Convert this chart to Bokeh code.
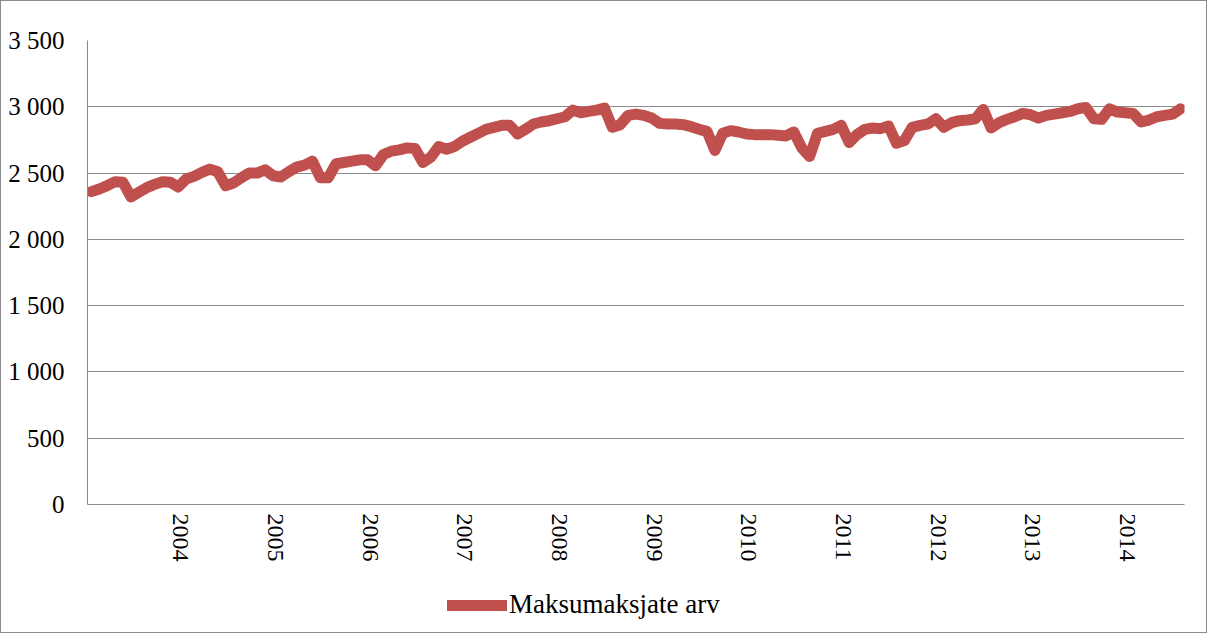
import numpy as np
import pandas as pd
from bokeh.plotting import figure
from bokeh.layouts import column
from bokeh.models import FixedTicker, Legend, LegendItem, Range1d, ColumnDataSource
from bokeh.embed import file_html
from bokeh.resources import INLINE

# Monthly series, starting February 2003
start_month = "2003-02"
values = [
    2360, 2380, 2405, 2435, 2430, 2320, 2355, 2390, 2415, 2435,
    2430, 2395, 2455, 2475, 2505, 2530, 2510, 2405, 2425, 2465,
    2500, 2500, 2525, 2480, 2470, 2510, 2545, 2560, 2590, 2465,
    2465, 2570, 2580, 2590, 2600, 2600, 2555, 2640, 2665, 2675,
    2690, 2685, 2580, 2620, 2700, 2680, 2700, 2740, 2770, 2800,
    2830, 2845, 2860, 2860, 2795, 2830, 2870, 2885, 2895, 2910,
    2925, 2975, 2955, 2965, 2975, 2990, 2845, 2865, 2935, 2945,
    2935, 2915, 2875, 2870, 2870, 2865, 2850, 2830, 2815, 2670,
    2800, 2820, 2810, 2795, 2790, 2790, 2790, 2785, 2780, 2810,
    2690, 2625, 2800, 2815, 2830, 2860, 2730, 2790, 2830, 2840,
    2835, 2855, 2725, 2745, 2845, 2860, 2870, 2910, 2845, 2880,
    2895, 2900, 2910, 2980, 2840, 2880, 2905, 2925, 2950, 2940,
    2915, 2935, 2945, 2955, 2965, 2985, 2995, 2910, 2905, 2985,
    2960, 2955, 2950, 2885, 2900, 2925, 2935, 2945, 2985,
]
series_name = "Maksumaksjate arv"
year_labels = ["2004", "2005", "2006", "2007", "2008", "2009",
               "2010", "2011", "2012", "2013", "2014"]
y_ticks = [0, 500, 1000, 1500, 2000, 2500, 3000, 3500]
y_tick_labels = ["0", "500", "1 000", "1 500", "2 000", "2 500", "3 000", "3 500"]

months = pd.date_range(start_month, periods=len(values), freq="MS")
idx = np.arange(len(values))
label_shift = 0.3
jan_idx = [float(i) + label_shift for i in idx[months.month == 1]]

src = ColumnDataSource(dict(x=idx, y=values))

FONT = "Liberation Serif"
GRID = "#8a8a8a"
RED = "#C0504D"
W = 1205

p = figure(width=W, height=575,
           x_range=Range1d(-0.5, len(values) - 0.5),
           y_range=Range1d(y_ticks[0], y_ticks[-1]),
           output_backend="svg", toolbar_location=None,
           min_border_left=86, min_border_right=22,
           min_border_top=39, min_border_bottom=72)
p.background_fill_color = "white"
p.border_fill_color = "white"
p.outline_line_color = None

r = p.line("x", "y", source=src, line_width=11, line_color=RED,
           line_join="round", line_cap="round")

p.xgrid.visible = False
p.ygrid.grid_line_color = GRID
p.ygrid.grid_line_width = 1
p.yaxis.ticker = FixedTicker(ticks=y_ticks)
p.yaxis.major_label_overrides = {t: l for t, l in zip(y_ticks, y_tick_labels)}
p.xaxis.ticker = FixedTicker(ticks=jan_idx)
p.xaxis.major_label_overrides = {t: l for t, l in zip(jan_idx, year_labels)}
p.xaxis.major_label_orientation = -np.pi / 2

for ax in (p.xaxis, p.yaxis):
    ax.axis_line_color = GRID
    ax.major_tick_line_color = None
    ax.minor_tick_line_color = None
    ax.major_label_text_font = FONT
    ax.major_label_text_font_size = "24px"
    ax.major_label_text_color = "black"
p.yaxis.major_label_text_font_size = "25px"
p.yaxis.major_label_standoff = 17
p.xaxis.major_label_standoff = 3

# Legend strip below the chart (its frame is aligned with the chart's frame)
lg = figure(width=W, height=56, x_range=Range1d(0, 1), y_range=Range1d(0, 1),
            output_backend="svg", toolbar_location=None,
            min_border_left=0, min_border_right=0,
            min_border_top=0, min_border_bottom=0)
lg.axis.visible = False
lg.grid.visible = False
lg.outline_line_color = None
lg.background_fill_color = "white"
lg.border_fill_color = "white"
# same series, out of this strip's ranges, only used for the legend sample
lr = lg.line("x", "y", source=src, line_width=11, line_color=RED, line_cap="round")
legend = Legend(items=[LegendItem(label=series_name, renderers=[lr])],
                location=(360, 12), orientation="horizontal",
                label_text_font=FONT, label_text_font_size="27px",
                label_text_color="black", glyph_width=60, glyph_height=20,
                label_standoff=2, border_line_color=None,
                background_fill_alpha=0, margin=0, padding=0)
lg.add_layout(legend, "center")

layout = column(p, lg, spacing=0, styles={"border": "1px solid #8c8c8c"})

open("out.html", "w").write(file_html(layout, INLINE))
